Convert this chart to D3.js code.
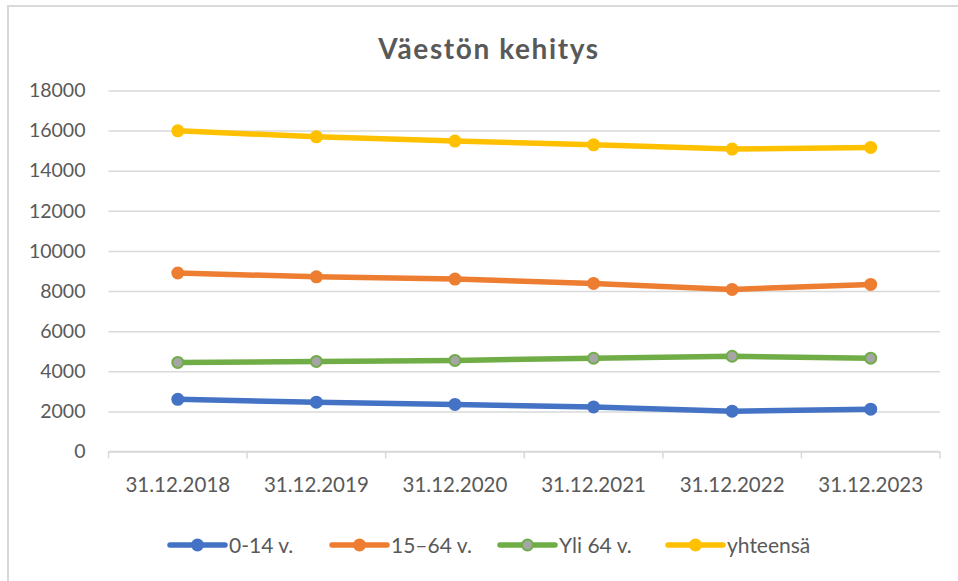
<!DOCTYPE html>
<html>
<head>
<meta charset="utf-8">
<script src="https://cdn.jsdelivr.net/npm/d3@7"></script>
<style>
  html, body { margin: 0; padding: 0; background: #ffffff; }
  svg { display: block; }
  text { font-family: Lato, "Open Sans", sans-serif; fill: #595959; }
</style>
</head>
<body>
<svg id="chart" width="958" height="581"></svg>
<script>
const categories = ["31.12.2018", "31.12.2019", "31.12.2020", "31.12.2021", "31.12.2022", "31.12.2023"];
const seriesNames = ["0-14 v.", "15–64 v.", "Yli 64 v.", "yhteensä"];
const values014 = [2600, 2460, 2345, 2225, 2010, 2110];
const values1564 = [8900, 8710, 8595, 8380, 8080, 8330];
const valuesYli64 = [4440, 4490, 4540, 4650, 4750, 4655];
const valuesTotal = [15990, 15690, 15480, 15290, 15080, 15160];
const yTicks = [0, 2000, 4000, 6000, 8000, 10000, 12000, 14000, 16000, 18000];
const title = "Väestön kehitys";

const seriesValues = [values014, values1564, valuesYli64, valuesTotal];
const colors = ["#4472C4", "#ED7D31", "#70AD47", "#FFC000"];
const markerFill = ["#4472C4", "#ED7D31", "#A5A5A5", "#FFC000"];

const svg = d3.select("#chart");

// chart frame
svg.append("rect")
  .attr("x", 8).attr("y", 6).attr("width", 1000).attr("height", 700)
  .attr("fill", "none").attr("stroke", "#d9d9d9").attr("stroke-width", 2);

const plotLeft = 108.5, plotRight = 940, plotTop = 90.5, plotBottom = 451.5;

const x = d3.scaleBand().domain(categories).range([plotLeft, plotRight]);
const y = d3.scaleLinear().domain([0, 18000]).range([plotBottom, plotTop]);
const cx = d => x(d) + x.bandwidth() / 2;

// title
svg.append("text")
  .attr("x", 489).attr("y", 59)
  .attr("text-anchor", "middle")
  .style("font-size", "28px").style("font-weight", "bold")
  .style("letter-spacing", "1.6px")
  .text(title);

// gridlines
const yAxis = d3.axisLeft(y).tickValues(yTicks).tickSize(-(plotRight - plotLeft)).tickPadding(23).tickFormat(d3.format("d"));
const gy = svg.append("g").attr("transform", `translate(${plotLeft},0)`).call(yAxis);
gy.select(".domain").remove();
gy.selectAll(".tick line").attr("stroke", "#d9d9d9").attr("stroke-width", 1.5);
gy.selectAll(".tick text").style("font-size", "19.5px").style("fill", "#595959").attr("font-family", null);

// x axis
const xAxis = d3.axisBottom(x).tickSize(0).tickPadding(0);
const gx = svg.append("g").attr("transform", `translate(0,${plotBottom})`).call(xAxis);
gx.select(".domain").attr("stroke", "#d9d9d9").attr("stroke-width", 1.5)
  .attr("d", `M${plotLeft},0H${plotRight}`);
gx.selectAll(".tick text").attr("y", 40).attr("dy", null)
  .style("font-size", "20.5px").style("fill", "#595959").attr("font-family", null);
// category boundary tick marks
const bounds = categories.map(c => x(c)).concat([x(categories[categories.length - 1]) + x.bandwidth()]);
gx.selectAll("line.bound").data(bounds).enter().append("line")
  .attr("class", "bound")
  .attr("x1", d => d).attr("x2", d => d).attr("y1", 0).attr("y2", 7)
  .attr("stroke", "#d9d9d9").attr("stroke-width", 1.5);

// series
const line = d3.line().x((d, i) => cx(categories[i])).y(d => y(d));
seriesValues.forEach((vals, si) => {
  const g = svg.append("g");
  g.append("path").datum(vals)
    .attr("d", line).attr("fill", "none")
    .attr("stroke", colors[si]).attr("stroke-width", 5.5)
    .attr("stroke-linejoin", "round").attr("stroke-linecap", "round");
  g.selectAll("circle").data(vals).enter().append("circle")
    .attr("cx", (d, i) => cx(categories[i])).attr("cy", d => y(d))
    .attr("r", si === 2 ? 5.5 : 6.5)
    .attr("fill", markerFill[si])
    .attr("stroke", colors[si]).attr("stroke-width", si === 2 ? 2 : 0);
});

// legend
const legendX = [170, 332, 500, 668];
const legendY = 545;
seriesNames.forEach((name, si) => {
  const g = svg.append("g").attr("transform", `translate(${legendX[si]},${legendY})`);
  g.append("line").attr("x1", 0).attr("x2", 55).attr("y1", 0).attr("y2", 0)
    .attr("stroke", colors[si]).attr("stroke-width", 5.5).attr("stroke-linecap", "round");
  g.append("circle").attr("cx", 27.5).attr("cy", 0)
    .attr("r", si === 2 ? 5.5 : 6.5)
    .attr("fill", markerFill[si]).attr("stroke", colors[si]).attr("stroke-width", si === 2 ? 2 : 0);
  g.append("text").attr("x", 59).attr("y", 7.5)
    .style("font-size", "21px").text(name);
});
</script>
</body>
</html>
